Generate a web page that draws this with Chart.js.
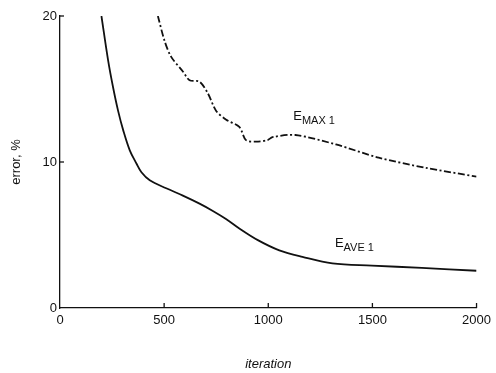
<!DOCTYPE html>
<html>
<head>
<meta charset="utf-8">
<script src="https://cdn.jsdelivr.net/npm/chart.js@4/dist/chart.umd.min.js"></script>
<style>
  html, body { margin: 0; padding: 0; background: #fff; }
  #wrap { width: 496px; height: 373px; position: relative; }
</style>
</head>
<body>
<div id="wrap"><canvas id="chart" width="496" height="373"></canvas></div>
<script>
// data
const xTicks = [0, 500, 1000, 1500, 2000];
const yTicks = [0, 10, 20];

const iterMax = [470, 502, 534, 590, 622, 670, 710, 750, 798, 861, 893, 941, 997, 1020, 1130, 1325, 1530, 1756, 2000];
const errMax  = [20, 18.3, 17.2, 16.2, 15.6, 15.5, 14.7, 13.5, 12.9, 12.4, 11.5, 11.4, 11.5, 11.7, 11.85, 11.2, 10.3, 9.6, 9.0];

const iterAve = [199, 231, 255, 279, 303, 335, 367, 391, 431, 510, 590, 670, 734, 797, 861, 950, 1053, 1164, 1308, 1498, 1737, 2000];
const errAve  = [20, 16.96, 15.1, 13.5, 12.2, 10.8, 9.9, 9.3, 8.75, 8.2, 7.7, 7.15, 6.65, 6.1, 5.45, 4.65, 3.95, 3.5, 3.05, 2.9, 2.75, 2.55];

const INK = "#111";
const FONT = "Liberation Sans";

// inward tick marks + curve labels
const extrasPlugin = {
  id: "extras",
  afterDraw: (chart) => {
    const ctx = chart.ctx;
    const x = chart.scales.x, y = chart.scales.y;
    const area = chart.chartArea;
    ctx.save();
    ctx.strokeStyle = INK;
    ctx.lineWidth = 1.3;
    xTicks.forEach((v) => {
      if (v === 0) return;
      const px = x.getPixelForValue(v);
      ctx.beginPath();
      ctx.moveTo(px, area.bottom);
      ctx.lineTo(px, area.bottom - 5);
      ctx.stroke();
    });
    yTicks.forEach((v) => {
      if (v === 0) return;
      const py = y.getPixelForValue(v);
      ctx.beginPath();
      ctx.moveTo(area.left, py);
      ctx.lineTo(area.left + 4, py);
      ctx.stroke();
    });

    // labels with subscripts
    const label = (main, sub, vx, vy) => {
      const px = x.getPixelForValue(vx);
      const py = y.getPixelForValue(vy);
      ctx.fillStyle = INK;
      ctx.textBaseline = "alphabetic";
      ctx.textAlign = "left";
      ctx.font = "13px '" + FONT + "'";
      ctx.fillText(main, px, py);
      const w = ctx.measureText(main).width;
      ctx.font = "11px '" + FONT + "'";
      ctx.fillText(sub, px + w, py + 4);
    };
    label("E", "MAX 1", 1120, 12.9);
    label("E", "AVE 1", 1320, 4.2);
    ctx.restore();
  },
};

new Chart(document.getElementById("chart"), {
  type: "scatter",
  data: {
    datasets: [
      {
        label: "EMAX1",
        data: iterMax.map((v, i) => ({ x: v, y: errMax[i] })),
        showLine: true,
        borderColor: INK,
        borderWidth: 1.8,
        borderDash: [7, 2.5, 2, 2.5],
        pointRadius: 0,
        tension: 0.3,
      },
      {
        label: "EAVE1",
        data: iterAve.map((v, i) => ({ x: v, y: errAve[i] })),
        showLine: true,
        borderColor: INK,
        borderWidth: 1.8,
        pointRadius: 0,
        tension: 0.35,
      },
    ],
  },
  options: {
    responsive: false,
    animation: false,
    layout: { padding: { top: 16, right: 16, left: 0, bottom: 0 } },
    plugins: { legend: { display: false }, tooltip: { enabled: false } },
    scales: {
      x: {
        type: "linear",
        min: 0,
        max: 2000,
        afterFit: (s) => { s.height = 65; },
        afterBuildTicks: (s) => { s.ticks = xTicks.map((v) => ({ value: v })); },
        grid: { display: false, drawTicks: false },
        border: { display: true, color: INK, width: 1.3 },
        ticks: {
          color: INK,
          padding: 5,
          font: { family: FONT, size: 13 },
          callback: (v) => String(v),
        },
        title: {
          display: true,
          text: "iteration",
          color: INK,
          padding: { top: 0, bottom: 1 },
          font: { family: FONT, size: 13, style: "italic" },
        },
      },
      y: {
        type: "linear",
        min: 0,
        max: 20,
        afterFit: (s) => { s.width = 60; },
        afterBuildTicks: (s) => { s.ticks = yTicks.map((v) => ({ value: v })); },
        grid: { display: false, drawTicks: false },
        border: { display: true, color: INK, width: 1.3 },
        ticks: {
          color: INK,
          padding: 3,
          font: { family: FONT, size: 13 },
          callback: (v) => String(v),
        },
        title: {
          display: true,
          text: "error, %",
          color: INK,
          padding: { top: 9, bottom: 0 },
          font: { family: FONT, size: 13 },
        },
      },
    },
  },
  plugins: [extrasPlugin],
});
</script>
</body>
</html>
